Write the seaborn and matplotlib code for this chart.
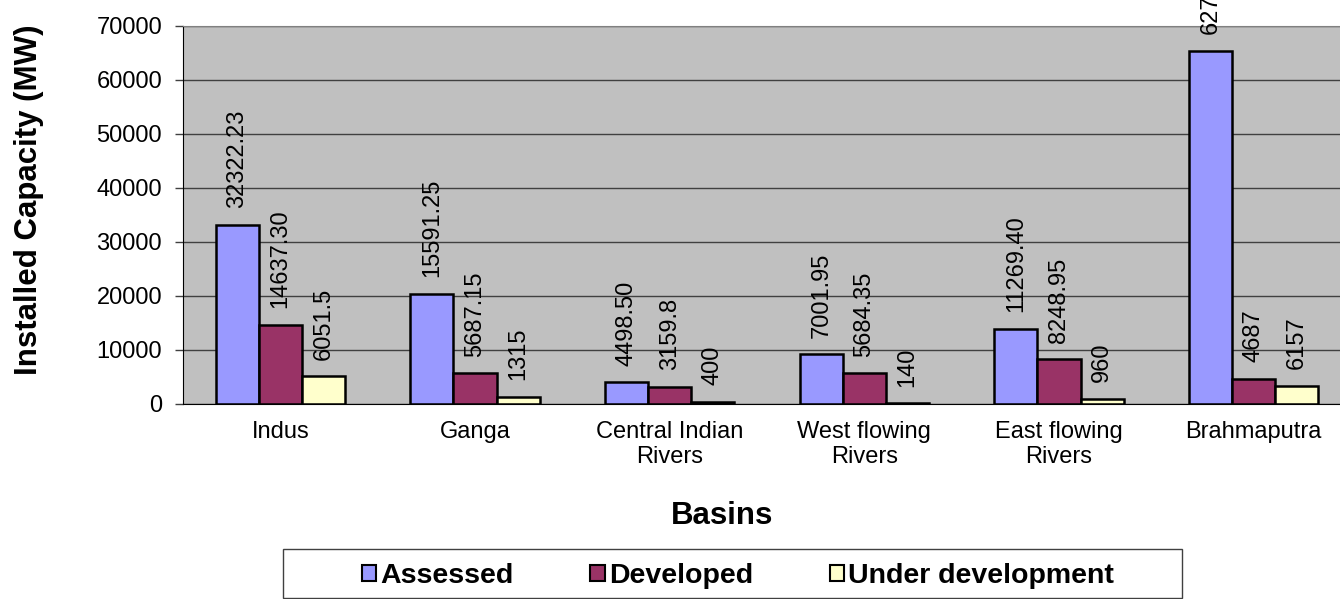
import numpy as np
import pandas as pd
import seaborn as sns
from matplotlib import pyplot as plt
from matplotlib.patches import Rectangle

basins = ['Indus', 'Ganga', 'Central Indian\nRivers', 'West flowing\nRivers',
          'East flowing\nRivers', 'Brahmaputra']
series = ['Assessed', 'Developed', 'Under development']
colors = ['#9999FF', '#993366', '#FFFFCC']

# bar heights as drawn
assessed = [33100, 20400, 4030, 9200, 13900, 65300]
developed = [14637.30, 5687.15, 3159.8, 5684.35, 8248.95, 4687]
under_dev = [5130, 1315, 400, 140, 960, 3420]

# data labels as printed
assessed_lbl = ['32322.23', '15591.25', '4498.50', '7001.95', '11269.40', '62731.95']
developed_lbl = ['14637.30', '5687.15', '3159.8', '5684.35', '8248.95', '4687']
under_dev_lbl = ['6051.5', '1315', '400', '140', '960', '6157']

yticks = np.arange(0, 70001, 10000)

df = pd.DataFrame({
    'basin': basins * 3,
    'value': assessed + developed + under_dev,
    'series': sum([[s] * len(basins) for s in series], []),
})

sns.set_style('white')
plt.rcParams['font.family'] = ['Liberation Sans', 'DejaVu Sans']
plt.rcParams['text.color'] = 'black'
plt.rcParams['axes.labelcolor'] = 'black'
plt.rcParams['xtick.color'] = 'black'
plt.rcParams['ytick.color'] = 'black'

fig = plt.figure(figsize=(13.4, 5.99), dpi=100)
ax = fig.add_axes([183 / 1340, (599 - 404) / 599, 1168 / 1340, (404 - 25.5) / 599])
ax.set_facecolor('#C0C0C0')

sns.barplot(data=df, x='basin', y='value', hue='series', palette=colors, saturation=1,
            width=0.663, edgecolor='black', linewidth=1.8, ax=ax)

# labels on the bars
for cont, lbls in zip(ax.containers, [assessed_lbl, developed_lbl, under_dev_lbl]):
    ax.bar_label(cont, labels=lbls, rotation=90, padding=12, fontsize=17, color='black')

ax.set_xlim(-0.5, len(basins) - 0.5)
ax.set_ylim(0, 70000)
ax.set_yticks(yticks)
ax.set_yticklabels([str(v) for v in yticks], fontsize=17)
ax.set_xticks(range(len(basins)))
ax.set_xticklabels(basins, fontsize=17)
ax.set_xticks(np.arange(-0.5, len(basins), 1), minor=True)
ax.tick_params(axis='x', which='major', length=0, pad=12)
ax.tick_params(axis='x', which='minor', length=7, width=1, color='#404040', direction='out')
ax.tick_params(axis='y', length=6, width=1, color='#404040', direction='out', pad=9, left=True)
ax.set_xlabel('')
ax.set_ylabel('')

ax.yaxis.grid(True, color='#404040', linewidth=1)
ax.xaxis.grid(False)
ax.set_axisbelow(True)
for side in ['top', 'right']:
    ax.spines[side].set_color('#808080')
for side in ['left', 'bottom']:
    ax.spines[side].set_color('black')

ax.get_legend().remove()

fig.text(29 / 1340, 1 - 200 / 599, 'Installed Capacity (MW)', rotation=90, ha='center',
         va='center', fontsize=22.5, fontweight='bold')
fig.text(722 / 1340, 1 - 516 / 599, 'Basins', ha='center', va='center',
         fontsize=22.5, fontweight='bold')

# legend
handles = [Rectangle((0, 0), 1, 1, facecolor=c, edgecolor='black', linewidth=1.5) for c in colors]
fig.legend(handles, series, ncol=3, mode='expand', loc='center',
           bbox_to_anchor=(362 / 1340, 1 - 596 / 599, (1114 - 362) / 1340, 40 / 599),
           frameon=False, borderpad=0, borderaxespad=0, handlelength=0.5, handleheight=0.5,
           handletextpad=0.15, prop={'weight': 'bold', 'size': 20.5})
fig.patches.append(Rectangle((283 / 1340, 1 - 598 / 599), 899 / 1340, 49 / 599,
                             transform=fig.transFigure, fill=False,
                             edgecolor='#404040', linewidth=1))

plt.savefig('out.png', dpi=100)
